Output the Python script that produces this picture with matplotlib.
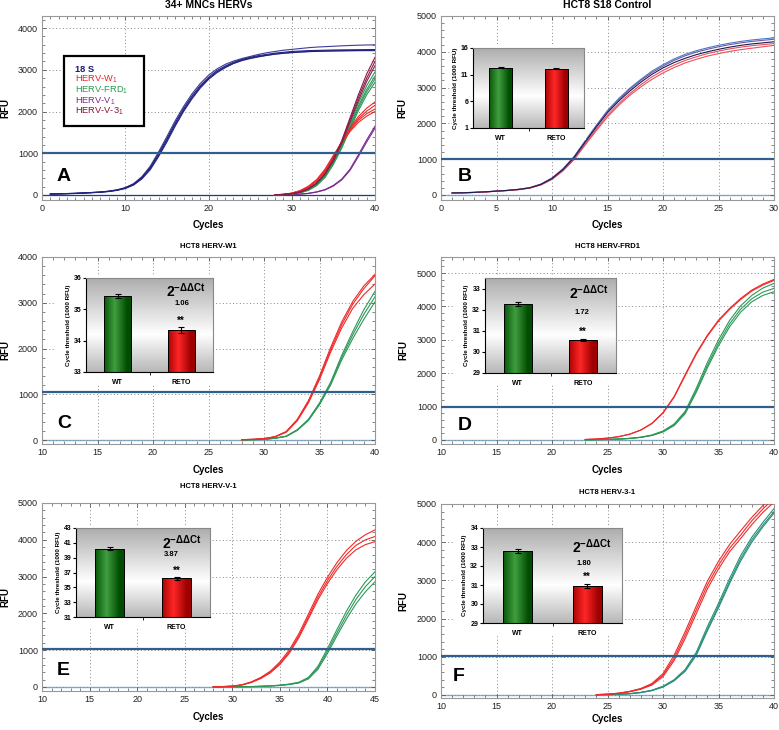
import numpy as np
import matplotlib
matplotlib.use("Agg")
import matplotlib.pyplot as plt
from matplotlib.patches import Rectangle
from matplotlib.ticker import MultipleLocator

plt.rcParams["font.family"] = ["Liberation Sans", "DejaVu Sans"]
plt.rcParams["mathtext.fontset"] = "custom"
plt.rcParams["mathtext.rm"] = "Liberation Sans"
plt.rcParams["mathtext.bf"] = "Liberation Sans:bold"
plt.rcParams["mathtext.it"] = "Liberation Sans:italic"

# ---------------- data (RFU per cycle) ----------------
# A: CD34+ MNCs, 18S (cycles 1-40) and HERVs (cycles 28-40)
a_18s = [
    [25, 30, 35, 40, 50, 60, 72, 92, 125, 178, 272, 440, 690, 1030, 1400, 1780, 2120, 2420, 2670, 2870,
     3020, 3130, 3210, 3270, 3320, 3370, 3410, 3440, 3470, 3490, 3510, 3530, 3545, 3555, 3565, 3575, 3583, 3590, 3595, 3600],
    [25, 30, 35, 40, 50, 60, 70, 90, 120, 170, 260, 420, 660, 990, 1350, 1730, 2070, 2370, 2620, 2820,
     2980, 3090, 3180, 3250, 3300, 3340, 3370, 3400, 3420, 3440, 3450, 3460, 3465, 3470, 3475, 3478, 3480, 3482, 3484, 3486],
    [22, 27, 32, 38, 47, 57, 67, 86, 114, 162, 248, 400, 630, 950, 1310, 1690, 2030, 2330, 2590, 2790,
     2950, 3070, 3160, 3230, 3280, 3320, 3350, 3380, 3400, 3420, 3430, 3440, 3447, 3452, 3456, 3459, 3462, 3464, 3466, 3468],
    [20, 25, 30, 36, 45, 55, 65, 83, 110, 155, 238, 385, 605, 920, 1270, 1650, 2000, 2300, 2560, 2770,
     2930, 3050, 3150, 3220, 3270, 3310, 3345, 3375, 3395, 3410, 3425, 3435, 3442, 3448, 3452, 3455, 3457, 3459, 3460, 3460],
]
a_w = [
    [5, 15, 40, 90, 180, 330, 560, 880, 1250, 1600, 1880, 2080, 2230],
    [5, 15, 40, 95, 190, 350, 590, 920, 1270, 1580, 1830, 2010, 2150],
    [5, 15, 42, 100, 200, 360, 600, 930, 1260, 1550, 1790, 1950, 2060],
    [5, 15, 45, 105, 210, 370, 620, 950, 1250, 1520, 1740, 1890, 2000],
]
a_frd = [
    [3, 10, 25, 60, 130, 260, 480, 800, 1200, 1700, 2200, 2620, 2950],
    [3, 10, 25, 60, 125, 250, 460, 780, 1170, 1650, 2130, 2530, 2850],
    [3, 10, 25, 55, 120, 240, 440, 760, 1150, 1610, 2080, 2470, 2780],
    [3, 10, 22, 50, 110, 225, 420, 730, 1120, 1570, 2020, 2400, 2700],
]
a_v = [
    [3, 6, 12, 22, 40, 75, 130, 230, 380, 620, 960, 1320, 1650],
    [3, 6, 11, 20, 37, 70, 122, 215, 360, 590, 920, 1270, 1600],
]
a_v3 = [
    [4, 12, 30, 70, 150, 290, 520, 850, 1300, 1850, 2400, 2900, 3300],
    [4, 12, 30, 70, 150, 285, 510, 840, 1270, 1800, 2330, 2800, 3200],
    [4, 12, 30, 68, 145, 280, 500, 820, 1240, 1750, 2260, 2720, 3100],
]
a_herv_start = 28
a_legend = ["18 S", "HERV-W$_1$", "HERV-FRD$_1$", "HERV-V$_1$", "HERV-V-3$_1$"]

# B: HCT8 S18 control, cycles 1-30
b_blue = [
    [60, 65, 75, 90, 110, 130, 160, 205, 305, 475, 735, 1080, 1520, 1950, 2360, 2690, 2980, 3230, 3460, 3640,
     3800, 3930, 4030, 4110, 4180, 4240, 4290, 4330, 4360, 4390],
    [55, 62, 72, 88, 108, 128, 157, 202, 300, 468, 725, 1065, 1500, 1930, 2330, 2660, 2950, 3200, 3420, 3600,
     3760, 3890, 3990, 4070, 4140, 4200, 4250, 4290, 4320, 4350],
    [58, 63, 73, 88, 108, 128, 155, 200, 295, 460, 715, 1050, 1480, 1900, 2300, 2620, 2900, 3150, 3370, 3550,
     3700, 3820, 3920, 4000, 4070, 4130, 4180, 4220, 4250, 4280],
]
b_red = [
    [50, 58, 70, 85, 105, 125, 150, 195, 285, 445, 690, 1010, 1430, 1840, 2230, 2550, 2830, 3080, 3300, 3480,
     3630, 3760, 3860, 3950, 4020, 4080, 4130, 4170, 4200, 4230],
    [50, 58, 70, 85, 105, 125, 150, 192, 280, 435, 675, 990, 1400, 1800, 2180, 2500, 2780, 3020, 3230, 3410,
     3560, 3690, 3790, 3880, 3950, 4010, 4060, 4100, 4140, 4180],
]

# C: HCT8 HERV-W1, cycles 28-40 (red = RETO, green = WT)
c_red = [
    [8, 15, 30, 75, 185, 450, 860, 1400, 2020, 2580, 3030, 3370, 3620],
    [8, 15, 30, 72, 180, 440, 840, 1360, 1970, 2520, 2970, 3310, 3590],
    [7, 14, 28, 68, 170, 420, 810, 1320, 1920, 2450, 2880, 3180, 3410],
]
c_green = [
    [4, 8, 16, 42, 85, 225, 450, 810, 1260, 1850, 2370, 2850, 3250],
    [4, 8, 15, 40, 82, 220, 440, 790, 1230, 1800, 2300, 2750, 3130],
    [4, 7, 14, 38, 78, 210, 425, 770, 1200, 1750, 2220, 2640, 3020],
]
c_start = 28

# D: HCT8 HERV-FRD1, cycles 23-40
d_red = [
    [15, 30, 55, 100, 175, 300, 500, 820, 1300, 1960, 2600, 3140, 3590, 3940, 4240, 4490, 4670, 4810],
    [15, 30, 55, 98, 172, 295, 490, 805, 1280, 1930, 2570, 3110, 3560, 3910, 4210, 4460, 4640, 4780],
]
d_green = [
    [5, 10, 18, 30, 50, 85, 150, 270, 480, 860, 1550, 2320, 3000, 3580, 4020, 4330, 4550, 4690],
    [5, 10, 17, 28, 47, 80, 140, 250, 450, 820, 1480, 2230, 2900, 3480, 3920, 4230, 4430, 4540],
    [5, 9, 16, 27, 45, 77, 135, 240, 430, 790, 1430, 2160, 2820, 3390, 3830, 4140, 4330, 4440],
]
d_start = 23

# E: HCT8 HERV-V-1, cycles 28-45
e_red = [
    [5, 12, 25, 60, 140, 260, 430, 680, 1010, 1450, 1980, 2520, 2980, 3380, 3710, 3960, 4140, 4270],
    [5, 11, 23, 56, 130, 245, 405, 640, 960, 1390, 1910, 2440, 2890, 3280, 3600, 3850, 4000, 4090],
    [5, 10, 21, 52, 122, 230, 385, 610, 920, 1340, 1850, 2370, 2810, 3190, 3500, 3730, 3870, 3950],
]
e_green = [
    [2, 3, 5, 8, 12, 20, 32, 50, 80, 130, 260, 560, 1040, 1560, 2060, 2500, 2860, 3130],
    [2, 3, 5, 7, 11, 18, 29, 45, 72, 118, 240, 520, 970, 1470, 1950, 2380, 2730, 3000],
    [2, 3, 4, 7, 10, 17, 27, 42, 67, 110, 220, 480, 910, 1390, 1850, 2260, 2590, 2860],
]
e_start = 28

# F: HCT8 HERV-3-1, cycles 24-40
f_red = [
    [10, 22, 48, 95, 170, 300, 560, 1040, 1660, 2330, 2980, 3500, 3940, 4300, 4650, 4960, 5250],
    [9, 20, 45, 90, 160, 280, 520, 960, 1570, 2230, 2880, 3400, 3840, 4190, 4560, 4870, 5150],
    [8, 18, 42, 85, 150, 260, 480, 900, 1480, 2130, 2780, 3300, 3750, 4100, 4460, 4780, 5050],
]
f_green = [
    [5, 10, 19, 36, 68, 125, 230, 400, 670, 1120, 1790, 2400, 3050, 3650, 4130, 4520, 4880],
    [5, 9, 18, 34, 64, 118, 215, 380, 640, 1070, 1720, 2330, 2970, 3570, 4060, 4450, 4800],
    [4, 9, 17, 33, 62, 114, 208, 370, 620, 1040, 1680, 2280, 2920, 3510, 4000, 4400, 4760],
]
f_start = 24

# threshold lines (RFU)
thresholds = [1000, 1000, 1040, 980, 1025, 1030]

# insets: mean Ct (1000 RFU) for WT / RETO with error, and fold change
inset_groups = ["WT", "RETO"]
ct_wt = [12.3, 35.43, 32.27, 40.2, 32.8]
ct_wt_err = [0.08, 0.06, 0.08, 0.22, 0.12]
ct_reto = [12.15, 34.35, 30.58, 36.2, 30.95]
ct_reto_err = [0.08, 0.09, 0.05, 0.18, 0.12]
fold = [None, "1.06", "1.72", "3.87", "1.80"]
inset_ylim = [(1, 16), (33, 36), (29, 33.5), (31, 43), (29, 34)]
inset_ticks = [[1, 6, 11, 16], [33, 34, 35, 36], [29, 30, 31, 32, 33],
               [31, 33, 35, 37, 39, 41, 43], [29, 30, 31, 32, 33, 34]]

# ---------------- figure ----------------
W, H = 779, 730
fig = plt.figure(figsize=(W / 100, H / 100), dpi=100)


def px_axes(l, t, r, b):
    return fig.add_axes([l / W, 1 - b / H, (r - l) / W, (b - t) / H])


RED = "#ee2a2a"
GREEN = "#2c9858"
THR = "#2f5f8c"
BASE = "#7fb0d0"


def style_main(ax, xlim, ylim, xmaj, thr):
    ax.set_xlim(*xlim)
    ax.set_ylim(*ylim)
    ax.xaxis.set_major_locator(MultipleLocator(xmaj))
    ax.xaxis.set_minor_locator(MultipleLocator(1))
    ax.yaxis.set_major_locator(MultipleLocator(1000))
    ax.yaxis.set_minor_locator(MultipleLocator(200))
    ax.tick_params(which="both", direction="in", top=True, right=True,
                   labelsize=6.5, labelcolor="#222", color="#555", pad=3)
    ax.tick_params(which="major", length=3, width=0.6)
    ax.tick_params(which="minor", length=2, width=0.5)
    ax.grid(True, which="major", ls=(0, (1, 2.5)), color="#888", lw=0.7)
    for s in ax.spines.values():
        s.set_color("#999")
        s.set_linewidth(0.8)
    ax.axhline(thr, color=THR, lw=1.6, zorder=4)
    ax.axhline(0, color=BASE, lw=1.0, zorder=1.5)


def plot_set(ax, curves, start, color, lw=0.8):
    for v in curves:
        ax.plot(np.arange(start, start + len(v)), v, color=color, lw=lw, zorder=3)


def gradient_bar(ax, x, top, bottom, dark, light):
    bar = ax.bar(x, top - bottom, bottom=bottom, width=0.42, color="none",
                 edgecolor="black", lw=0.7, zorder=3)[0]
    t = np.linspace(0, 1, 64)
    k = np.clip(1 - np.abs(t - 0.4) * 2.2, 0, 1)[None, :, None]
    img = np.array(dark)[None, None, :] * (1 - k) + np.array(light)[None, None, :] * k
    im = ax.imshow(img, extent=[x - 0.21, x + 0.21, bottom, top], aspect="auto",
                   zorder=2.5, interpolation="bilinear")
    im.set_clip_path(bar)


def draw_inset(host, rect, white, i, ftxt):
    # white backing under the inset and its labels (hides the grid)
    wl, wt, wr, wb = white
    host.add_patch(Rectangle((wl / W, 1 - wb / H), (wr - wl) / W, (wb - wt) / H,
                             transform=fig.transFigure, facecolor="white",
                             edgecolor="none", zorder=5))
    ax = px_axes(*rect)
    lo, hi = inset_ylim[i]
    tt = np.linspace(0, 1, 100)
    g = np.where(tt < 0.6, 0.68 + 0.32 * tt / 0.6, 1.0 - 0.28 * (tt - 0.6) / 0.4)
    bg = np.repeat(g[:, None, None], 3, axis=2)
    ax.imshow(bg, extent=[0, 1, 0, 1], transform=ax.transAxes, aspect="auto",
              zorder=0, interpolation="bilinear")
    gradient_bar(ax, 0, ct_wt[i], lo, (0.0, 0.30, 0.0), (0.25, 0.62, 0.25))
    gradient_bar(ax, 1, ct_reto[i], lo, (0.62, 0.0, 0.0), (1.0, 0.15, 0.15))
    ax.errorbar([0, 1], [ct_wt[i], ct_reto[i]], yerr=[ct_wt_err[i], ct_reto_err[i]],
                fmt="none", ecolor="black", elinewidth=0.8, capsize=2, capthick=0.8, zorder=4)
    ax.set_xlim(-0.5, 1.5)
    ax.set_ylim(lo, hi)
    ax.set_xticks([0, 1])
    ax.set_xticklabels(inset_groups, fontsize=5, fontweight="bold")
    ax.set_xticks([0.5], minor=True)
    ax.set_yticks(inset_ticks[i])
    ax.set_yticklabels([str(v) for v in inset_ticks[i]], fontsize=5, fontweight="bold")
    ax.tick_params(axis="x", which="major", length=0, pad=5)
    ax.tick_params(axis="x", which="minor", length=2, direction="out")
    ax.tick_params(axis="y", length=2, direction="out", pad=1.5)
    for s in ax.spines.values():
        s.set_color("#888")
        s.set_linewidth(0.8)
    ax.spines["left"].set_color("black")
    ax.spines["bottom"].set_color("black")
    ax.set_ylabel("Cycle threshold (1000 RFU)", fontsize=4.5, fontweight="bold", labelpad=2)
    if fold[i] is not None:
        ax.text(ftxt[0], ftxt[1], r"$\mathbf{2^{-\Delta\Delta Ct}}$", transform=ax.transAxes,
                fontsize=10, ha="left", va="center")
        ax.text(ftxt[2], ftxt[3], fold[i], transform=ax.transAxes, fontsize=5.5,
                fontweight="bold", ha="center", va="center")
        ax.annotate("**", (1, ct_reto[i] + ct_reto_err[i]), xytext=(0, 1),
                    textcoords="offset points", ha="center", va="bottom",
                    fontsize=7, fontweight="bold")
    return ax


def labels(ax_rect, title, tsize, ty, cy, rx):
    l, t, r, b = ax_rect
    fig.text((l + r) / 2 / W, 1 - ty / H, title, ha="center", va="center",
             fontsize=tsize, fontweight="bold")
    fig.text((l + r) / 2 / W, 1 - cy / H, "Cycles", ha="center", va="center",
             fontsize=7, fontweight="bold")
    fig.text(rx / W, 1 - (t + b) / 2 / H, "RFU", ha="center", va="center",
             rotation=90, fontsize=7, fontweight="bold")


def letter(ax, txt, x, y):
    ax.text(x, y, txt, transform=ax.transAxes, fontsize=14, fontweight="bold", va="center")


# ---- A
ra = (42, 16, 375, 200)
ax = px_axes(*ra)
style_main(ax, (0, 40), (-120, 4290), 10, thresholds[0])
ax.axhline(-8, color="#4b2a7a", lw=0.8, zorder=1.6)
plot_set(ax, a_18s[:1], 1, "#3c3c9c")
plot_set(ax, a_18s[1:], 1, "#23237e")
plot_set(ax, a_v, a_herv_start, "#7a2a90")
plot_set(ax, a_frd, a_herv_start, GREEN)
plot_set(ax, a_w, a_herv_start, RED)
plot_set(ax, a_v3, a_herv_start, "#8c1a48")
ax.add_patch(Rectangle((0.066, 0.402), 0.24, 0.381, transform=ax.transAxes,
                       facecolor="white", edgecolor="black", lw=1.6, zorder=6))
leg_colors = ["#1a1a7a", "#ee2020", "#2a9a50", "#7a2a9a", "#8a1030"]
for k, (txt, col, yy) in enumerate(zip(a_legend, leg_colors, [0.71, 0.655, 0.597, 0.539, 0.483])):
    ax.text(0.098, yy, txt, transform=ax.transAxes, color=col, fontsize=6.7,
            fontweight="bold" if k == 0 else "normal", va="center", ha="left", zorder=7)
letter(ax, "A", 0.045, 0.13)
labels(ra, "34+ MNCs HERVs", 7.5, 5, 225, 5)

# ---- B
rb = (441, 16, 774, 200)
ax = px_axes(*rb)
style_main(ax, (0, 30), (-140, 5000), 5, thresholds[1])
plot_set(ax, b_blue[:1], 1, "#4a78c4")
plot_set(ax, b_blue[1:2], 1, "#6a5aa8")
plot_set(ax, b_red, 1, "#e85060")
plot_set(ax, b_blue[2:], 1, "#1c1c50")
letter(ax, "B", 0.05, 0.13)
labels(rb, "HCT8 S18 Control", 7.5, 5, 225, 402)
draw_inset(ax, (473, 48, 584, 128), (452, 46, 586, 140), 0, None)

# ---- C
rc = (42, 257, 375, 444)
ax = px_axes(*rc)
style_main(ax, (10, 40), (-87, 4000), 5, thresholds[2])
plot_set(ax, c_green, c_start, GREEN)
plot_set(ax, c_red, c_start, RED)
letter(ax, "C", 0.045, 0.11)
labels(rc, "HCT8 HERV-W1", 5.5, 247, 470, 5)
draw_inset(ax, (86, 278, 213, 372), (56, 276, 215, 384), 1, (0.63, 0.87, 0.756, 0.73))

# ---- D
rd = (441, 257, 774, 444)
ax = px_axes(*rd)
style_main(ax, (10, 40), (-120, 5480), 5, thresholds[3])
plot_set(ax, d_green, d_start, GREEN)
plot_set(ax, d_red, d_start, RED)
letter(ax, "D", 0.05, 0.10)
labels(rd, "HCT8 HERV-FRD1", 5.5, 247, 470, 403)
draw_inset(ax, (485, 278, 616, 373), (455, 276, 618, 385), 2, (0.64, 0.84, 0.74, 0.64))

# ---- E
re_ = (42, 503, 375, 691)
ax = px_axes(*re_)
style_main(ax, (10, 45), (-109, 5000), 5, thresholds[4])
plot_set(ax, e_green, e_start, GREEN)
plot_set(ax, e_red, e_start, RED)
letter(ax, "E", 0.045, 0.11)
labels(re_, "HCT8 HERV-V-1", 5.5, 487, 717, 5)
draw_inset(ax, (76, 528, 210, 617), (48, 526, 212, 629), 3, (0.64, 0.84, 0.71, 0.70))

# ---- F
rf = (441, 504, 774, 698)
ax = px_axes(*rf)
style_main(ax, (10, 40), (-79, 5000), 5, thresholds[5])
plot_set(ax, f_green, f_start, "#2a8f78")
plot_set(ax, f_red, f_start, RED)
letter(ax, "F", 0.036, 0.11)
labels(rf, "HCT8 HERV-3-1", 5.5, 493, 719, 403)
draw_inset(ax, (483, 528, 622, 623), (453, 526, 624, 635), 4, (0.64, 0.80, 0.73, 0.63))

fig.savefig("out.png", dpi=100, facecolor="white")
